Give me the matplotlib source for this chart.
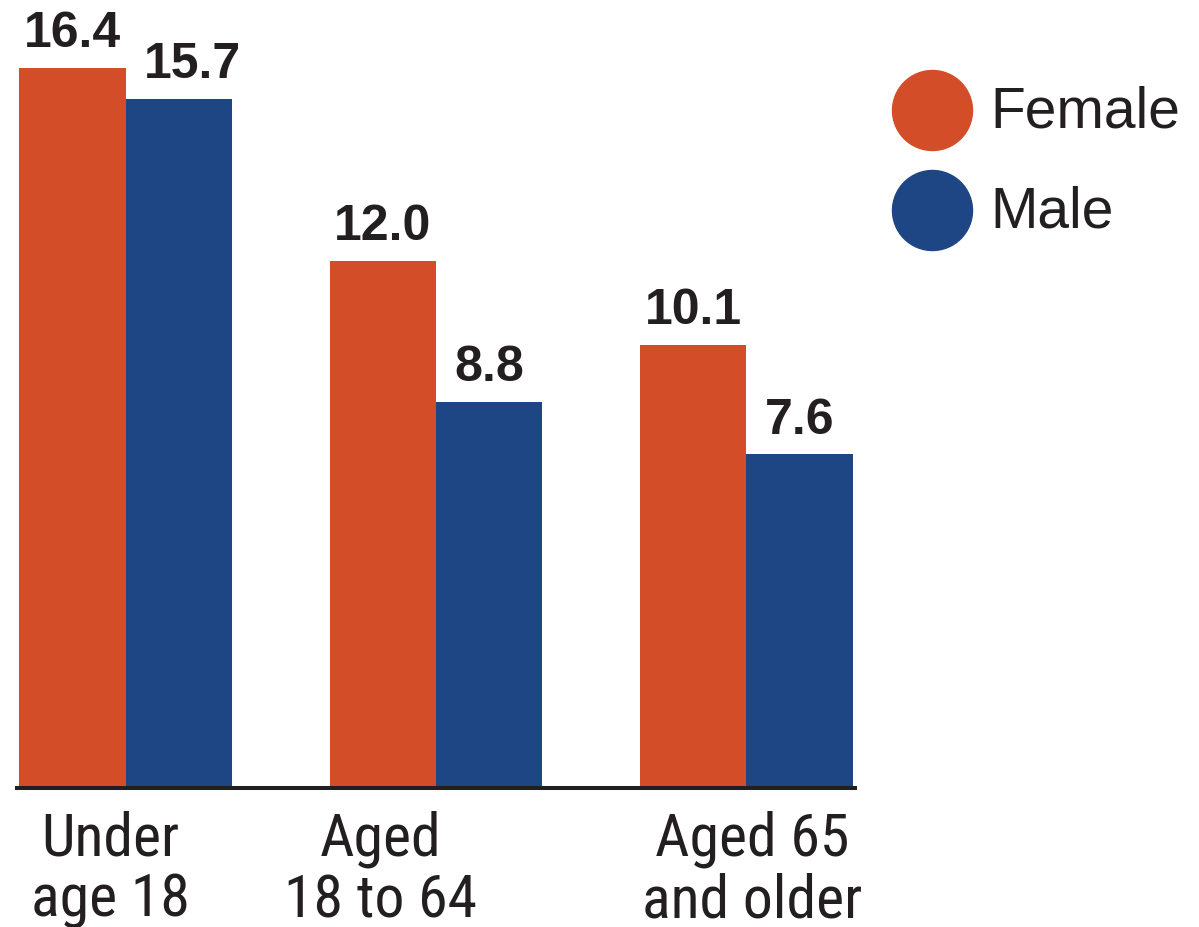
import numpy as np
import matplotlib
matplotlib.use("Agg")
import matplotlib.pyplot as plt
from matplotlib.lines import Line2D

groups = ["Under\nage 18", "Aged\n18 to 64", "Aged 65\nand older"]
female = [16.4, 12.0, 10.1]
male = [15.7, 8.8, 7.6]

FEMALE_COLOR = "#D34D29"
MALE_COLOR = "#1E4684"
INK = "#231F20"

W, H = 1199, 927


def px(x, y):
    # pixel position (from top-left) to figure fraction
    return x / W, 1 - y / H


def main():
    fig = plt.figure(figsize=(W / 100, H / 100), dpi=100)
    ax = fig.add_axes([17 / W, (H - 788) / H, (855 - 17) / W, 788 / H])

    x = np.arange(len(groups))
    width = 0.343
    bars_f = ax.bar(x - width / 2, female, width, color=FEMALE_COLOR, zorder=2)
    bars_m = ax.bar(x + width / 2, male, width, color=MALE_COLOR, zorder=2)

    ax.set_xlim(-0.35, 2.35)
    ax.set_ylim(0, 17.95)

    label_font = dict(family=["Liberation Sans", "DejaVu Sans"], weight="bold",
                      fontsize=36, color=INK)
    for i, b in enumerate(bars_f):
        ax.annotate(f"{female[i]:.1f}", (b.get_x() + b.get_width() / 2, b.get_height()),
                    xytext=(0, 15), textcoords="offset points",
                    ha="center", va="baseline", **label_font)
    for i, b in enumerate(bars_m):
        # first male label is pushed right so it clears its neighbour
        dx = 10 if i == 0 else 0
        ax.annotate(f"{male[i]:.1f}", (b.get_x() + b.get_width() / 2, b.get_height()),
                    xytext=(dx, 15), textcoords="offset points",
                    ha="center", va="baseline", **label_font)

    for s in ["left", "top", "right"]:
        ax.spines[s].set_visible(False)
    ax.spines["bottom"].set_linewidth(2.9)
    ax.spines["bottom"].set_color(INK)
    ax.spines["bottom"].set_zorder(3)
    ax.set_yticks([])
    ax.set_xticks([])

    # category labels sit a little off the group centres, as in the source
    shifts = [-0.05, -0.18, 0.02]
    for i, g in enumerate(groups):
        ax.annotate(g, (x[i] + shifts[i], 0), xycoords=("data", "axes fraction"),
                    xytext=(0, -16), textcoords="offset points",
                    ha="center", va="top", linespacing=1.1,
                    family=["Roboto Condensed", "Liberation Sans", "DejaVu Sans"],
                    fontsize=43, color=INK)

    # legend
    for j, (name, col) in enumerate([("Female", FEMALE_COLOR), ("Male", MALE_COLOR)]):
        cy = 110 + 100 * j
        cx0, cy0 = px(932, cy)
        fig.add_artist(Line2D([cx0], [cy0], marker="o", markersize=57.6,
                              color=col, linestyle="none", transform=fig.transFigure))
        tx, ty = px(990, cy + 18)
        fig.text(tx, ty, name, ha="left", va="baseline",
                 family=["Liberation Sans", "DejaVu Sans"], fontsize=41, color=INK)

    fig.savefig("out.png", dpi=100)


if __name__ == "__main__":
    main()
